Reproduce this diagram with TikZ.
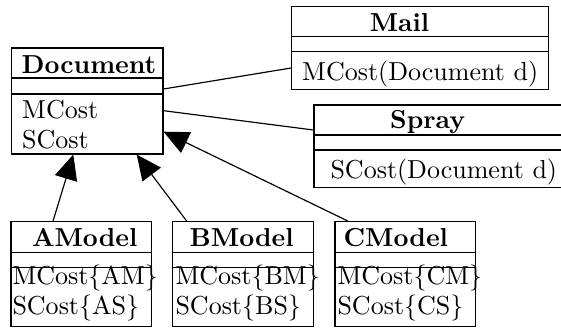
\documentclass[tikz,border=0pt]{standalone}
\usetikzlibrary{fit,arrows.meta}
\tikzset{
  umlbox/.style={draw, inner sep=0pt, line width=0.45pt},
  sep/.style={line width=0.45pt},
  ttl/.style={anchor=base, inner sep=0pt, font=\bfseries},
  attr/.style={anchor=base west, inner sep=0pt},
  inh/.style={line width=0.45pt, -{Triangle[length=9.6pt,width=8.8pt]}},
  assoc/.style={line width=0.45pt}
}
\begin{document}
\begin{tikzpicture}[x=0.3846pt, y=-0.3846pt]
\useasboundingbox (0,0) rectangle (561,330);
\clip (0,0) rectangle (561,330);
% Document
\node[umlbox, fit={(11.7,48) (163,154)}] (doc) {};
\draw[sep] (doc.west |- 0,78) -- (doc.east |- 0,78);
\draw[sep] (doc.west |- 0,94) -- (doc.east |- 0,94);
\node[ttl] (doct) at (89,73.3) {Document};
\node[attr] (doca) at (21.7,119) {MCost};
\node[attr] (docb) at (21.7,149) {SCost};
% Mail
\node[umlbox, fit={(291.7,6.7) (548.7,89.3)}] (mail) {};
\draw[sep] (mail.west |- 0,36.7) -- (mail.east |- 0,36.7);
\draw[sep] (mail.west |- 0,51.7) -- (mail.east |- 0,51.7);
\node[ttl] (mailt) at (399.5,31.7) {Mail};
\node[attr] (maila) at (301.7,81) {MCost(Document d)};
% Spray
\node[umlbox, fit={(314,105) (568,187.3)}] (spray) {};
\draw[sep] (spray.west |- 0,135) -- (spray.east |- 0,135);
\draw[sep] (spray.west |- 0,150) -- (spray.east |- 0,150);
\node[ttl] (sprayt) at (427.7,128.3) {Spray};
\node[attr] (spraya) at (330,178.3) {SCost(Document d)};
% AModel
\node[umlbox, fit={(11,221.7) (151.7,326.7)}] (am) {};
\draw[sep] (am.west |- 0,252.3) -- (am.east |- 0,252.3);
\draw[sep] (am.west |- 0,267.7) -- (am.east |- 0,267.7);
\node[ttl] (amt) at (84.7,246.7) {AModel};
\node[attr] (ama) at (12,284.3) {MCost\{AM\}};
\node[attr] (amb) at (12,314.3) {SCost\{AS\}};
% BModel
\node[umlbox, fit={(172.7,221.7) (313.3,326.7)}] (bm) {};
\draw[sep] (bm.west |- 0,252.3) -- (bm.east |- 0,252.3);
\draw[sep] (bm.west |- 0,267.7) -- (bm.east |- 0,267.7);
\node[ttl] (bmt) at (241.7,246.7) {BModel};
\node[attr] (bma) at (175,284.3) {MCost\{BM\}};
\node[attr] (bmb) at (175,314.3) {SCost\{BS\}};
% CModel
\node[umlbox, fit={(335,221.7) (475.7,326.7)}] (cm) {};
\draw[sep] (cm.west |- 0,252.3) -- (cm.east |- 0,252.3);
\draw[sep] (cm.west |- 0,267.7) -- (cm.east |- 0,267.7);
\node[ttl] (cmt) at (395.8,246.7) {CModel};
\node[attr] (cma) at (337,284.3) {MCost\{CM\}};
\node[attr] (cmb) at (337,314.3) {SCost\{CS\}};
% connectors
\draw[inh] (am.north -| 53,0) -- (doc.south -| 73.3,0);
\draw[inh] (bm.north -| 186.7,0) -- (doc.south -| 136.7,0);
\draw[inh] (cm.north -| 348,0) -- (doc.east |- 0,131.7);
\draw[assoc] (doc.east |- 0,89) -- (mail.west |- 0,68);
\draw[assoc] (doc.east |- 0,110.7) -- (spray.west |- 0,130);
\end{tikzpicture}
\end{document}
